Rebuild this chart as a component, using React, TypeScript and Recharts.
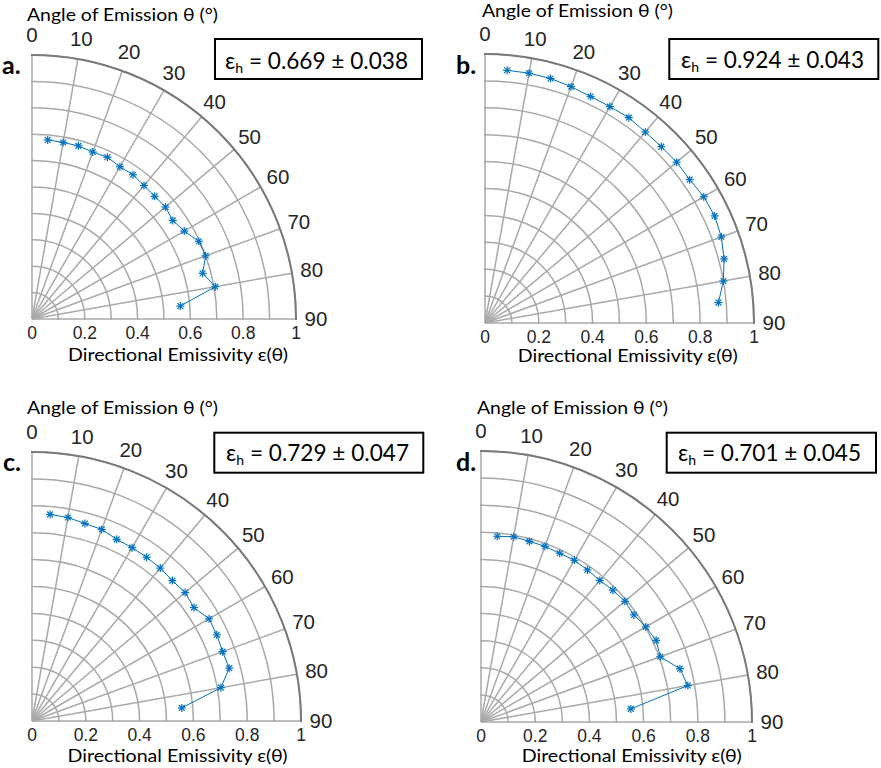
import React from 'react';
import { RadarChart, Radar, PolarGrid, PolarAngleAxis, PolarRadiusAxis } from 'recharts';

// ---- data ----
const angles = [5, 10, 15, 20, 25, 30, 35, 40, 45, 50, 55, 60, 65, 70, 75, 80, 85];
const emisA = [0.681, 0.679, 0.679, 0.673, 0.676, 0.666, 0.667, 0.66, 0.657, 0.66, 0.651, 0.666, 0.697, 0.7, 0.669, 0.705, 0.564];
const emisB = [0.943, 0.943, 0.941, 0.935, 0.929, 0.929, 0.932, 0.927, 0.927, 0.93, 0.929, 0.939, 0.942, 0.935, 0.92, 0.9, 0.871];
const emisC = [0.771, 0.768, 0.76, 0.758, 0.745, 0.744, 0.743, 0.742, 0.738, 0.743, 0.735, 0.76, 0.758, 0.754, 0.759, 0.713, 0.559];
const emisD = [0.688, 0.694, 0.69, 0.69, 0.687, 0.689, 0.685, 0.682, 0.688, 0.693, 0.689, 0.702, 0.713, 0.704, 0.76, 0.775, 0.555];
const hemiMeans = ['0.669', '0.924', '0.729', '0.701'];
const hemiErrs = ['0.038', '0.043', '0.047', '0.045'];
const panelLetters = ['a.', 'b.', 'c.', 'd.'];
const angleTitle = 'Angle of Emission θ (°)';
const radiusTitle = 'Directional Emissivity ε(θ)';

const BLUE = '#0072BD';
const GRID = '#a9a9a9';
const TICK = '#262626';
const TEXT_FONT = 'Lato, "Open Sans", sans-serif';
const TICK_FONT = '"Liberation Sans", Arial, sans-serif';

// ---- layout ----
const panels = [
  { cx: 31.7, cy: 319.3, R: 264, title: [27, 20.7], bottom: [178, 360], letter: [2, 74], box: [215, 39, 207, 40], boxText: [225, 68.5] },
  { cx: 485, cy: 322.7, R: 269, title: [482, 16.7], bottom: [627.7, 361.7], letter: [456, 74], box: [669.3, 39, 209, 40], boxText: [681, 68] },
  { cx: 31.7, cy: 720.7, R: 269, title: [27, 414.3], bottom: [177.5, 761], letter: [3, 470.7], box: [214.3, 432.7, 209, 40], boxText: [226, 461] },
  { cx: 480.7, cy: 721.7, R: 271, title: [477, 414.3], bottom: [631.7, 761], letter: [456, 470.7], box: [666.7, 432.7, 209.3, 40], boxText: [678, 461] },
];
const series = [emisA, emisB, emisC, emisD];

const AngleTick = (props: any) => {
  const { x, y, payload } = props;
  return (
    <text x={x} y={y} dy="0.35em" textAnchor="middle" fill={TICK} fontSize={20.5} fontFamily={TICK_FONT}>
      {payload.value}
    </text>
  );
};

const RadiusTick = (props: any) => {
  const { x, y, payload } = props;
  const v = Number(Number(payload.value).toFixed(1));
  return (
    <text x={x} y={y + 13.5} dy="0.35em" textAnchor="middle" fill={TICK} fontSize={17.5} fontFamily={TICK_FONT}>
      {String(v)}
    </text>
  );
};

const Asterisk = ({ x, y }: { x: number; y: number }) => {
  const s = 4;
  const d = 2.9;
  return (
    <g stroke={BLUE} strokeWidth={1.2}>
      <line x1={x - s} y1={y} x2={x + s} y2={y} />
      <line x1={x} y1={y - s} x2={x} y2={y + s} />
      <line x1={x - d} y1={y - d} x2={x + d} y2={y + d} />
      <line x1={x - d} y1={y + d} x2={x + d} y2={y - d} />
    </g>
  );
};

const SeriesShape = (props: any) => {
  const pts = (props.points || []) as any[];
  const d = pts.map((p, i) => `${i === 0 ? 'M' : 'L'}${p.x},${p.y}`).join('');
  return (
    <g>
      <path d={d} fill="none" stroke={BLUE} strokeWidth={1} />
      {pts.map((p, i) => (
        <Asterisk key={i} x={p.x} y={p.y} />
      ))}
    </g>
  );
};

const zeroMargin = { top: 0, right: 0, bottom: 0, left: 0 };

function Panel({ idx }: { idx: number }) {
  const p = panels[idx];
  const data = angles.map((a, i) => ({ angle: a, e: series[idx][i] }));
  const R = p.R;
  const pad = 45;
  return (
    <>
      <div
        style={{
          position: 'absolute',
          left: p.cx - 1,
          top: p.cy - R - 1,
          width: R + 2,
          height: R + 2,
          overflow: 'hidden',
        }}
      >
        <RadarChart
          width={R + 2}
          height={R + 2}
          cx={1}
          cy={R + 1}
          innerRadius={0}
          outerRadius={R}
          startAngle={90}
          endAngle={0}
          data={data}
          margin={zeroMargin}
        >
          <PolarGrid gridType="circle" stroke={GRID} strokeWidth={1.5} />
          <PolarAngleAxis
            dataKey="angle"
            type="number"
            domain={[0, 90]}
            tickCount={10}
            tick={false}
            tickLine={false}
            axisLineType="circle"
            axisLine={{ stroke: '#7a7a7a', strokeWidth: 2 }}
          />
          <PolarRadiusAxis
            angle={0}
            type="number"
            domain={[0, 1]}
            tickCount={11}
            allowDecimals
            tick={false}
            tickLine={false}
            axisLine={false}
          />
          <Radar dataKey="e" stroke="none" fill="none" dot={false} isAnimationActive={false} />
        </RadarChart>
      </div>
      <div style={{ position: 'absolute', left: p.cx - pad, top: p.cy - R - pad, width: R + 2 * pad, height: R + 2 * pad }}>
        <RadarChart
          width={R + 2 * pad}
          height={R + 2 * pad}
          cx={pad}
          cy={R + pad}
          innerRadius={0}
          outerRadius={R}
          startAngle={90}
          endAngle={0}
          data={data}
          margin={zeroMargin}
          style={{ overflow: 'visible' }}
        >
          <PolarAngleAxis
            dataKey="angle"
            type="number"
            domain={[0, 90]}
            tickCount={10}
            axisLine={false}
            tickLine={false}
            tickSize={20}
            tick={AngleTick}
          />
          <PolarRadiusAxis
            angle={0}
            type="number"
            domain={[0, 1]}
            tickCount={6}
            allowDecimals
            axisLine={false}
            tickLine={false}
            tick={RadiusTick}
          />
          <Radar dataKey="e" shape={SeriesShape} dot={false} isAnimationActive={false} />
        </RadarChart>
      </div>
    </>
  );
}

function Overlay() {
  return (
    <svg width={881} height={768} style={{ position: 'absolute', left: 0, top: 0, pointerEvents: 'none' }}>
      {panels.map((p, i) => (
        <g key={i}>
          <text x={p.title[0]} y={p.title[1]} fontFamily={TEXT_FONT} fontSize={17.5} fill="#000" textLength={191} lengthAdjust="spacingAndGlyphs">
            {angleTitle}
          </text>
          <text x={p.bottom[0] - 110} y={p.bottom[1] + 0.5} fontFamily={TEXT_FONT} fontSize={17.5} fill="#000" textLength={220} lengthAdjust="spacingAndGlyphs">
            {radiusTitle}
          </text>
          <text x={p.letter[0]} y={p.letter[1]} fontFamily={TEXT_FONT} fontSize={25} fontWeight={700} fill="#000">
            {panelLetters[i]}
          </text>
          <rect x={p.box[0]} y={p.box[1]} width={p.box[2]} height={p.box[3]} fill="none" stroke="#000" strokeWidth={2} />
          <text x={p.boxText[0]} y={p.boxText[1]} fontFamily={TEXT_FONT} fontSize={22.5} fill="#000" textLength={183} lengthAdjust="spacingAndGlyphs">
            ε<tspan fontSize={14} dy={4}>h</tspan>
            <tspan dy={-4}>{` = ${hemiMeans[i]} ± ${hemiErrs[i]}`}</tspan>
          </text>
        </g>
      ))}
    </svg>
  );
}

export default function App() {
  return (
    <div style={{ position: 'absolute', left: 0, top: 0, width: 881, height: 768, background: '#fff' }}>
      {panels.map((_, i) => (
        <Panel key={i} idx={i} />
      ))}
      <Overlay />
    </div>
  );
}
